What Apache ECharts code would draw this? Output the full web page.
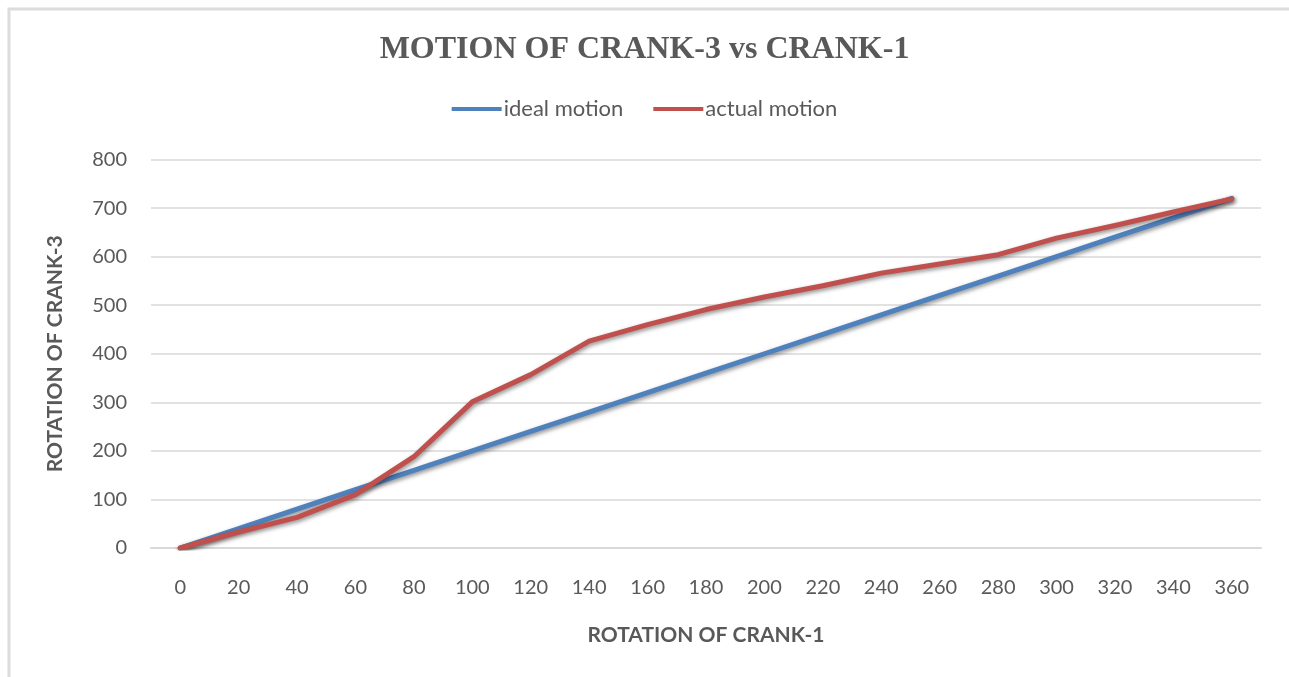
<!DOCTYPE html>
<html>
<head>
<meta charset="utf-8">
<script src="https://cdn.jsdelivr.net/npm/echarts@6/dist/echarts.min.js"></script>
<style>
html,body{margin:0;padding:0;background:#fff;}
#chart{width:1289px;height:677px;}
</style>
</head>
<body>
<div id="chart"></div>
<script>
const categories = ['0','20','40','60','80','100','120','140','160','180','200','220','240','260','280','300','320','340','360'];
const idealMotion = [0,40,80,120,160,200,240,280,320,360,400,440,480,520,560,600,640,680,720];
const actualMotion = [0,33,63,110,188,301,357,426,460,491,517,540,566,585,604,638,664,692,719];
const yTicks = [0,100,200,300,400,500,600,700,800];

const textColor = '#595959';
const font = 'Lato, "Open Sans", sans-serif';

const chart = echarts.init(document.getElementById('chart'));
chart.setOption({
  backgroundColor: '#fff',
  animation: false,
  graphic: [{
    type: 'rect',
    shape: {x: 9, y: 9, width: 1300, height: 700},
    style: {fill: 'none', stroke: '#dcdcdc', lineWidth: 3},
    silent: true, z: -1
  }],
  title: {
    text: 'MOTION OF CRANK-3 vs CRANK-1',
    left: 'center',
    top: 29,
    textStyle: {fontFamily: '"Liberation Serif", "DejaVu Serif", serif', fontWeight: 'bold', fontSize: 32, color: textColor}
  },
  legend: {
    top: 93,
    left: 'center',
    itemWidth: 50,
    itemHeight: 4,
    itemGap: 30,
    icon: 'rect',
    textStyle: {fontFamily: font, fontSize: 22, color: textColor, padding: [0,0,0,-3]},
    data: ['ideal motion', 'actual motion']
  },
  grid: {left: 151, right: 28, top: 159.5, bottom: 129},
  xAxis: {
    type: 'category',
    data: categories,
    boundaryGap: true,
    name: 'ROTATION OF CRANK-1',
    nameLocation: 'middle',
    nameGap: 77,
    nameTextStyle: {fontFamily: font, fontWeight: 'bold', fontSize: 21, color: textColor},
    axisLine: {lineStyle: {color: '#d9d9d9', width: 2}},
    axisTick: {show: false},
    axisLabel: {margin: 30, fontFamily: font, fontSize: 20, color: textColor}
  },
  yAxis: {
    type: 'value',
    min: 0, max: 800, interval: 100,
    name: 'ROTATION OF CRANK-3',
    nameLocation: 'middle',
    nameGap: 85,
    nameTextStyle: {fontFamily: font, fontWeight: 'bold', fontSize: 21, color: textColor},
    axisLine: {show: false},
    axisTick: {show: false},
    splitLine: {lineStyle: {color: '#d9d9d9', width: 1.5}},
    axisLabel: {margin: 24, fontFamily: font, fontSize: 20, color: textColor,
      formatter: v => yTicks.includes(v) ? String(v) : ''}
  },
  series: [
    {
      name: 'ideal motion', type: 'line', data: idealMotion,
      symbol: 'none', smooth: false,
      itemStyle: {color: '#4f81bd'},
      lineStyle: {color: '#4f81bd', width: 5, cap: 'round', join: 'round',
        shadowColor: 'rgba(0,0,0,0.45)', shadowBlur: 4, shadowOffsetX: 1, shadowOffsetY: 2}
    },
    {
      name: 'actual motion', type: 'line', data: actualMotion,
      symbol: 'none', smooth: false,
      itemStyle: {color: '#c0504d'},
      lineStyle: {color: '#c0504d', width: 5, cap: 'round', join: 'round',
        shadowColor: 'rgba(0,0,0,0.45)', shadowBlur: 4, shadowOffsetX: 1, shadowOffsetY: 2}
    }
  ]
});
</script>
</body>
</html>
